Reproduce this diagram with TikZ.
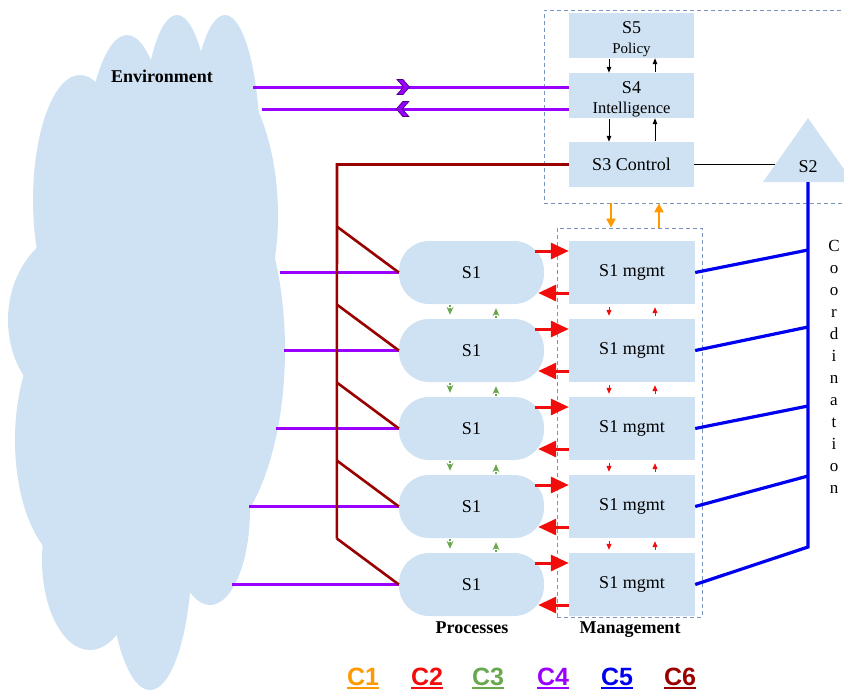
\documentclass[tikz,border=0pt]{standalone}
\usepackage{fontspec}
\setmainfont{Liberation Serif}
\newfontfamily\legendfont{Liberation Sans}
\usetikzlibrary{arrows.meta,decorations.markings,calc}

\definecolor{paleblue}{HTML}{CFE2F3}
\definecolor{frameblue}{HTML}{7A96C0}
\definecolor{cone}{HTML}{FF9900}
\definecolor{ctwo}{HTML}{F20D0D}
\definecolor{cthree}{HTML}{6AA84F}
\definecolor{cfour}{HTML}{9900FF}
\definecolor{cfive}{HTML}{0000F0}
\definecolor{csix}{HTML}{990000}
\definecolor{chevronedge}{HTML}{4B0082}

% underlined legend entry
\newcommand{\ulegend}[1]{\setbox0=\hbox{#1}\rlap{\rule[-3.5pt]{\wd0}{2pt}}\box0}

\begin{document}
\begin{tikzpicture}[x=1pt,y=-1pt,
  sysbox/.style={fill=paleblue, minimum width=125pt, minimum height=45pt,
    inner sep=0pt, align=center, font=\fontsize{18}{20}\selectfont},
  mbox/.style={fill=paleblue, minimum width=126pt, minimum height=63pt,
    inner sep=0pt, font=\fontsize{18}{20}\selectfont},
  proc/.style={mbox, rounded corners=30pt, minimum width=145pt},
  group/.style={draw=frameblue, dash pattern=on 4pt off 3pt, line width=0.8pt, inner sep=0pt},
  heading/.style={font=\bfseries\fontsize{18}{20}\selectfont, anchor=base, inner sep=0pt},
  linkfour/.style={cfour, line width=3pt},
  linksix/.style={csix, line width=2.6pt},
  linkfive/.style={cfive, line width=3.2pt},
  ctrl/.style={black, line width=1pt, -{Triangle[length=6pt,width=4.5pt]}, shorten <=1pt},
  redbig/.style={ctwo, line width=3pt, -{Triangle[length=18pt,width=16pt]}},
  redsmall/.style={ctwo, line width=1pt, -{Triangle[length=6pt,width=5pt]}, shorten <=3pt, shorten >=3pt},
  greenarr/.style={cthree, line width=1.2pt, dash pattern=on 1.5pt off 1.5pt,
    -{Stealth[length=8pt,width=7pt,inset=3pt]}, shorten <=1pt, shorten >=4pt},
  orangearr/.style={cone, line width=2.2pt, -{Triangle[length=9pt,width=9pt]}},
  legend/.style={font=\legendfont\bfseries\fontsize{25}{28}\selectfont, anchor=base, inner sep=0pt},
  chevron/.style={postaction={decorate}, decoration={markings,
    mark=at position #1 with {\filldraw[fill=cfour, draw=chevronedge, line width=0.7pt]
      (-6,-7.5) -- (0,-7.5) -- (6.5,0) -- (0,7.5) -- (-6,7.5) -- (0.5,0) -- cycle;}}}
]
\useasboundingbox (0,0) rectangle (844,691);

% the environment cloud
\begin{scope}[fill=paleblue]
  \fill (80,200) ellipse [x radius=47pt, y radius=125pt];
  \fill (127,200) ellipse [x radius=45pt, y radius=165pt];
  \fill (177,150) ellipse [x radius=35pt, y radius=135pt];
  \fill (225,150) ellipse [x radius=35pt, y radius=135pt];
  \fill (190,215) ellipse [x radius=88pt, y radius=165pt];
  \fill (195,350) ellipse [x radius=90pt, y radius=200pt];
  \fill (90,320) ellipse [x radius=82pt, y radius=95pt];
  \fill (75,440) ellipse [x radius=60pt, y radius=125pt];
  \fill (90,560) ellipse [x radius=48pt, y radius=90pt];
  \fill (150,550) ellipse [x radius=42pt, y radius=140pt];
  \fill (210,510) ellipse [x radius=40pt, y radius=95pt];
  \fill (150,350) ellipse [x radius=120pt, y radius=250pt];
\end{scope}
\node[heading] (env) at (162,82) {Environment};
\coordinate (env1) at (253,87);
\coordinate (env2) at (262,109);

% dashed groupings
\node[group, minimum width=304pt, minimum height=193pt] (upper) at (696,106.5) {};
\node[group, minimum width=145pt, minimum height=389pt] (mgmt) at (629.5,422.5) {};

% systems 5, 4, 3
\node[sysbox] (s5) at (631.5,35.5) {\rule{0pt}{20pt}S5\\{\fontsize{15}{17}\selectfont Policy}};
\node[sysbox] (s4) at (631.5,95.5) {\rule{0pt}{20pt}S4\\{\fontsize{16.5}{18}\selectfont Intelligence}};
\node[sysbox] (s3) at (631.5,164.5) {S3 Control};

% system 2
\fill[paleblue] (808,118) -- (853,182) -- (763,182) -- cycle;
\node[font=\fontsize{18}{20}\selectfont, inner sep=0pt] (s2) at (808,167) {S2};
\coordinate (s2base) at (808,182);
\coordinate (s2side) at (775,164.5);

% operational units and their management
\foreach \i in {0,...,4} {
  \pgfmathsetmacro\yy{272.5+78*\i}
  \node[proc] (p\i) at (471.5,\yy) {S1};
  \node[mbox] (m\i) at (632,\yy) {S1 mgmt};
}

% control links between S5, S4 and S3
\draw[ctrl] ([xshift=-22.5pt]s5.south) -- ([xshift=-22.5pt]s4.north);
\draw[ctrl] ([xshift=23.5pt]s4.north) -- ([xshift=23.5pt]s5.south);
\draw[ctrl] ([xshift=-22.5pt]s4.south) -- ([xshift=-22.5pt]s3.north);
\draw[ctrl] ([xshift=23.5pt]s3.north) -- ([xshift=23.5pt]s4.south);
\draw[black, line width=1pt] (s3.east) -- (s2side);

% C1: between the upper group and the management group
\draw[orangearr] (611,0 |- upper.south) -- (611,0 |- mgmt.north);
\draw[orangearr] (659,0 |- mgmt.north) -- (659,0 |- upper.south);

% C2: S1 <-> S1 mgmt
\foreach \i in {0,...,4} {
  \draw[redbig] ([xshift=-9pt,yshift=21.5pt]p\i.east) -- ([yshift=21.5pt]m\i.west);
  \draw[redbig] ([yshift=-20.5pt]m\i.west) -- ([xshift=-6pt,yshift=-20.5pt]p\i.east);
}
\foreach \i/\j in {0/1,1/2,2/3,3/4} {
  \draw[redsmall] ([xshift=-23pt]m\i.south) -- ([xshift=-23pt]m\j.north);
  \draw[redsmall] ([xshift=23pt]m\j.north) -- ([xshift=23pt]m\i.south);
  % C3: S1 <-> S1
  \draw[greenarr] ([xshift=-21.5pt]p\i.south) -- ([xshift=-21.5pt]p\j.north);
  \draw[greenarr] ([xshift=24.5pt]p\j.north) -- ([xshift=24.5pt]p\i.south);
}

% C4: environment links
\draw[linkfour, chevron=150pt] (env1) -- (s4.west |- env1);
\draw[linkfour, chevron=166pt] (s4.west |- env2) -- (env2);
\foreach \i/\x in {0/280,1/284,2/276,3/249,4/232}
  \draw[linkfour] (\x,0 |- p\i.west) -- (p\i.west);

% C6: S3 command channel
\draw[linksix] (s3.west) -- (337,0 |- s3.west) coordinate (trunktop)
  -- ([shift={(-62pt,46pt)}]p4.west) coordinate (trunkbot);
\foreach \i in {0,...,4}
  \draw[linksix] ([shift={(-62pt,46pt)}]p\i.west) -- (p\i.west);

% C5: coordination by S2
\draw[linkfive] (s2base) -- (808,547) coordinate (c5bot) -- (m4.east);
\foreach \i/\y in {0/250,1/327,2/406,3/476}
  \draw[linkfive] (m\i.east) -- (808,\y);
\node[font=\fontsize{17}{22}\selectfont, align=center, inner sep=0pt] (coord) at (834,367)
  {C\\o\\o\\r\\d\\i\\n\\a\\t\\i\\o\\n};

% column headings
\node[heading] (proclabel) at (472,633) {Processes};
\node[heading] (mgmtlabel) at (630,633) {Management};

% channel legend
\node[legend, cone] (l1) at (363,685) {\ulegend{C1}};
\node[legend, ctwo] (l2) at (427,685) {\ulegend{C2}};
\node[legend, cthree] (l3) at (488,685) {\ulegend{C3}};
\node[legend, cfour] (l4) at (553,685) {\ulegend{C4}};
\node[legend, cfive] (l5) at (617,685) {\ulegend{C5}};
\node[legend, csix] (l6) at (680,685) {\ulegend{C6}};
\end{tikzpicture}
\end{document}
